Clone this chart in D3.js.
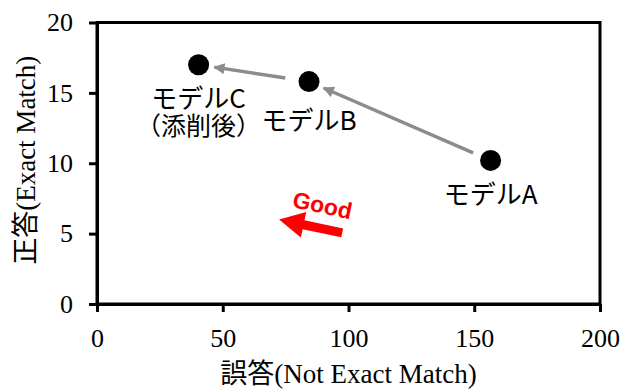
<!DOCTYPE html>
<html><head><meta charset="utf-8">
<script src="https://cdn.jsdelivr.net/npm/d3@7"></script>
<style>body{margin:0;background:#fff}svg{display:block}
.tick text{font-family:'Liberation Serif','Times New Roman',serif !important;font-size:26px !important;}
</style>
</head><body>
<svg id="c" width="625" height="389"></svg>
<script>
const models = ["モデルA", "モデルB", "モデルC"];
const subLabels = ["", "", "（添削後）"];
const wrong = [156.5, 84.3, 40.4];
const correct = [10.2, 15.8, 17.0];
const xTicks = [0, 50, 100, 150, 200];
const yTicks = [0, 5, 10, 15, 20];
const transitions = [[0, 1], [1, 2]];
const goodArrow = {from: [97.5, 5.05], to: [72.4, 6.0]};
const goodText = "Good";

const svg = d3.select("#c");
const m = {l: 97, t: 22.5, r: 25, b: 85};
const W = 625, H = 389;
const x = d3.scaleLinear().domain([0, 200]).range([m.l, W - m.r]);
const y = d3.scaleLinear().domain([0, 20]).range([304, m.t]);

const serif = "'Liberation Serif','Times New Roman','Noto Sans CJK JP',serif";
const sans = "'Noto Sans CJK JP','Liberation Sans',sans-serif";

// frame
svg.append("rect").attr("x", x(0)).attr("y", y(20)).attr("width", x(200) - x(0)).attr("height", y(0) - y(20))
  .attr("fill", "none").attr("stroke", "#000").attr("stroke-width", 3);

const xa = svg.append("g").attr("transform", `translate(0,${y(0)})`)
  .call(d3.axisBottom(x).tickValues(xTicks).tickSize(8).tickPadding(17).tickSizeOuter(0));
const ya = svg.append("g").attr("transform", `translate(${x(0)},0)`)
  .call(d3.axisLeft(y).tickValues(yTicks).tickSize(8).tickPadding(16).tickSizeOuter(0));
[xa, ya].forEach(g => {
  g.attr("font-family", serif).attr("font-size", 26);
  g.select(".domain").attr("stroke-width", 3);
  g.selectAll(".tick line").attr("stroke-width", 3);
  g.selectAll(".tick text").attr("fill", "#000");
});

svg.append("text").attr("x", (x(0) + x(200)) / 2).attr("y", 383).attr("text-anchor", "middle")
  .attr("font-family", serif).attr("font-size", 27).text("誤答(Not Exact Match)");
svg.append("text").attr("transform", `translate(35,${(y(0) + y(20)) / 2 - 3}) rotate(-90)`).attr("text-anchor", "middle")
  .attr("font-family", serif).attr("font-size", 27).text("正答(Exact Match)");

// gray arrows
const defs = svg.append("defs");
defs.append("marker").attr("id", "gh").attr("viewBox", "0 0 10 10").attr("refX", 9).attr("refY", 5)
  .attr("markerWidth", 3.6).attr("markerHeight", 3.2).attr("markerUnits", "strokeWidth").attr("orient", "auto")
  .append("path").attr("d", "M0,0 L10,5 L0,10 Z").attr("fill", "#8c8c8c");
transitions.forEach(([a, b]) => {
  const x1 = x(wrong[a]), y1 = y(correct[a]), x2 = x(wrong[b]), y2 = y(correct[b]);
  const d = Math.hypot(x2 - x1, y2 - y1), ux = (x2 - x1) / d, uy = (y2 - y1) / d;
  const g0 = a === 0 ? 19 : 24, g1 = 16;
  svg.append("line").attr("x1", x1 + ux * g0).attr("y1", y1 + uy * g0)
    .attr("x2", x2 - ux * g1).attr("y2", y2 - uy * g1)
    .attr("stroke", "#8c8c8c").attr("stroke-width", 3.5).attr("marker-end", "url(#gh)");
});

// points
svg.selectAll("circle.pt").data(models).join("circle").attr("class", "pt")
  .attr("cx", (d, i) => x(wrong[i])).attr("cy", (d, i) => y(correct[i])).attr("r", 10.5).attr("fill", "#000");

// labels
const labOff = [43.5, 48, 43];
models.forEach((name, i) => {
  const t = svg.append("text").attr("x", x(wrong[i])).attr("y", y(correct[i]) + labOff[i])
    .attr("text-anchor", "middle").attr("font-family", sans).attr("font-size", 26).attr("fill", "#000");
  t.append("tspan").text(name);
  if (subLabels[i]) {
    t.append("tspan").attr("x", x(wrong[i])).attr("dy", 27).attr("font-size", 25).text(subLabels[i]);
  }
});

// red Good arrow
{
  const x1 = x(goodArrow.from[0]), y1 = y(goodArrow.from[1]), x2 = x(goodArrow.to[0]), y2 = y(goodArrow.to[1]);
  const d = Math.hypot(x2 - x1, y2 - y1), ux = (x2 - x1) / d, uy = (y2 - y1) / d, px = -uy, py = ux;
  const hl = 25, hw = 13, sw = 4.5;
  const bx = x2 - ux * hl, by = y2 - uy * hl;
  const pts = [
    [x1 + px * sw, y1 + py * sw], [bx + px * sw, by + py * sw], [bx + px * hw, by + py * hw], [x2, y2],
    [bx - px * hw, by - py * hw], [bx - px * sw, by - py * sw], [x1 - px * sw, y1 - py * sw]
  ];
  svg.append("path").attr("d", d3.line()(pts) + "Z").attr("fill", "#ff0000");
  svg.append("text").attr("transform", `translate(${(x1 + x2) / 2 + 12},${(y1 + y2) / 2 - 21}) rotate(12)`)
    .attr("text-anchor", "middle").attr("font-family", "'Liberation Sans',Arial,sans-serif").attr("font-weight", "bold")
    .attr("font-size", 23).attr("fill", "#ff0000").attr("dy", "0.35em").text(goodText);
}
</script>
</body></html>
